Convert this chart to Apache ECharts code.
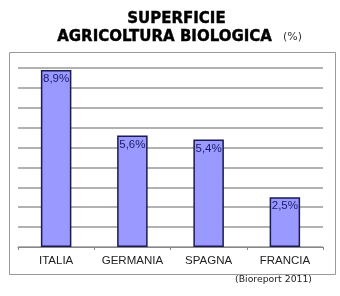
<!DOCTYPE html>
<html><head><meta charset="utf-8">
<script src="https://cdn.jsdelivr.net/npm/echarts@6/dist/echarts.min.js"></script>
<style>html,body{margin:0;padding:0;background:#fff}#c{width:340px;height:296px}</style>
</head><body><div id="c"></div>
<script>
const categories = ['ITALIA', 'GERMANIA', 'SPAGNA', 'FRANCIA'];
const values = [8.9, 5.6, 5.4, 2.5];
const valueLabels = ['8,9%', '5,6%', '5,4%', '2,5%'];
const titleLine1 = 'SUPERFICIE';
const titleLine2 = 'AGRICOLTURA BIOLOGICA';
const titleUnit = '(%)';
const sourceText = '(Bioreport 2011)';

const chart = echarts.init(document.getElementById('c'), null, {renderer: 'canvas'});
chart.setOption({
  animation: false,
  backgroundColor: '#fff',
  graphic: [
    {type: 'rect', left: 7, top: 50, shape: {width: 326, height: 222}, style: {fill: 'none', stroke: '#999', lineWidth: 1}, z: 0},
    {type: 'text', left: 127, top: 11, style: {text: titleLine1, font: 'bold 15px "DejaVu Sans"', fill: '#000', stroke: '#000', lineWidth: 0.4}},
    {type: 'text', left: 57, top: 29, style: {text: titleLine2, font: 'bold 15px "DejaVu Sans"', fill: '#000', stroke: '#000', lineWidth: 0.4}},
    {type: 'text', left: 283, top: 32, style: {text: titleUnit, font: '11px "DejaVu Sans"', fill: '#333'}},
    {type: 'text', right: 28, top: 275, style: {text: sourceText, font: '9.3px "DejaVu Sans"', fill: '#222'}}
  ],
  grid: {left: 18, right: 17, top: 68, bottom: 49},
  xAxis: {
    type: 'category',
    data: categories,
    axisLine: {lineStyle: {color: '#888', width: 1}},
    axisTick: {show: true, length: 3, lineStyle: {color: '#888'}},
    axisLabel: {interval: 0, color: '#222', fontSize: 11.5, fontFamily: 'Liberation Sans', margin: 8}
  },
  yAxis: {
    type: 'value', min: 0, max: 9, interval: 1,
    axisLine: {show: false}, axisTick: {show: false}, axisLabel: {show: false},
    splitLine: {lineStyle: {color: '#999', width: 1.5}}
  },
  series: [{
    type: 'bar',
    data: values,
    barWidth: '40%',
    itemStyle: {color: '#9999ff', borderColor: '#1a1a55', borderWidth: 1.5},
    label: {
      show: true, position: 'insideTop', distance: 3,
      formatter: p => valueLabels[p.dataIndex],
      color: '#1a1a6e', fontSize: 11.5, fontFamily: 'Liberation Sans'
    }
  }]
});
</script></body></html>
